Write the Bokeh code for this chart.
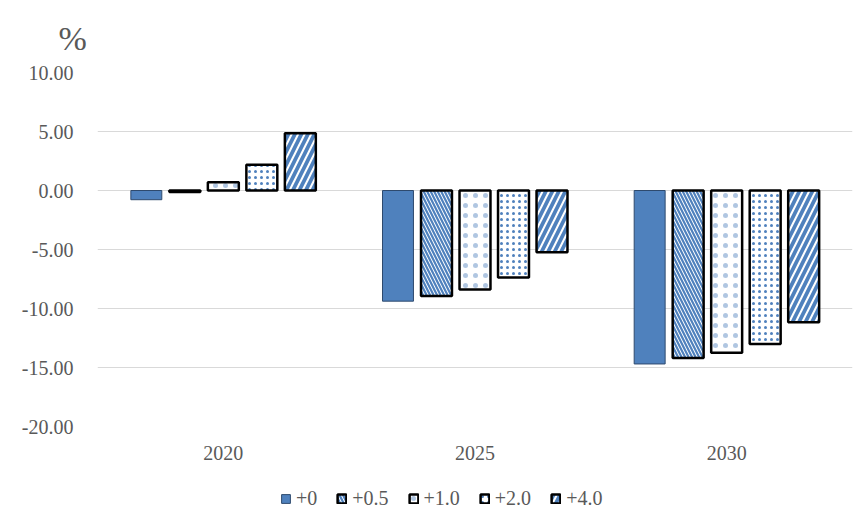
from bokeh.plotting import figure
from bokeh.layouts import column
from bokeh.models import (ColumnDataSource, Range1d, Legend, LegendItem, Title,
                          FixedTicker, NumeralTickFormatter)
from bokeh.transform import dodge
from bokeh.embed import file_html
from bokeh.resources import INLINE

years = ["2020", "2025", "2030"]
series = ["+0", "+0.5", "+1.0", "+2.0", "+4.0"]
v_p00 = [-0.78, -9.38, -14.70]
v_p05 = [-0.12, -8.95, -14.20]
v_p10 = [0.70, -8.39, -13.76]
v_p20 = [2.18, -7.37, -13.00]
v_p40 = [4.86, -5.23, -11.16]
y_ticks = [-20, -15, -10, -5, 0, 5, 10]
unit_label = "%"

values = [v_p00, v_p05, v_p10, v_p20, v_p40]

BLUE = "#4F81BD"
FONT = "Liberation Serif"
GREY = "#595959"

p = figure(x_range=years, width=858, height=466, output_backend="svg",
           toolbar_location=None, min_border_left=97, min_border_right=6,
           min_border_top=72, min_border_bottom=40)
p.y_range = Range1d(-20, 10)
p.outline_line_color = None
p.background_fill_color = "white"
p.border_fill_color = "white"

offsets = [-0.306, -0.153, 0.0, 0.153, 0.306]
styles = [
    dict(fill_color=BLUE, line_color="#2E4A6E", line_width=1),
    dict(fill_color="white", line_color="black", line_width=2.5,
         hatch_pattern="\\", hatch_color=BLUE, hatch_scale=7, hatch_weight=2.2),
    dict(fill_color="white", line_color="black", line_width=2.5,
         hatch_pattern=".", hatch_color=BLUE, hatch_scale=10, hatch_weight=1.0, hatch_alpha=0.45),
    dict(fill_color="white", line_color="black", line_width=2.5,
         hatch_pattern=".", hatch_color=BLUE, hatch_scale=6, hatch_weight=1.0),
    dict(fill_color="white", line_color="black", line_width=2.5,
         hatch_pattern="/", hatch_color=BLUE, hatch_scale=13, hatch_weight=3.8),
]

sources = []
for name, vals, off, st in zip(series, values, offsets, styles):
    src = ColumnDataSource(dict(year=years, val=vals))
    sources.append(src)
    p.vbar(x=dodge("year", off, range=p.x_range), top="val", bottom=0,
           width=0.123, source=src, **st)

p.xgrid.grid_line_color = None
p.ygrid.grid_line_color = "#D9D9D9"
p.ygrid.grid_line_width = 1
p.yaxis.ticker = FixedTicker(ticks=y_ticks)
p.yaxis.formatter = NumeralTickFormatter(format="0.00")

for ax in (p.xaxis, p.yaxis):
    ax.axis_line_color = None
    ax.major_tick_line_color = None
    ax.minor_tick_line_color = None
    ax.major_tick_out = 0
    ax.major_tick_in = 0
    ax.major_label_text_font = FONT
    ax.major_label_text_font_size = "20px"
    ax.major_label_text_color = GREY
p.yaxis.major_label_standoff = 24
p.xaxis.major_label_standoff = 19

p.title = Title(text=unit_label, align="left", offset=-39, vertical_align="top",
                standoff=28,
                text_font=FONT, text_font_size="34px", text_color=GREY,
                text_font_style="normal")

# legend strip below the chart (same sources; its renderers are hidden)
lg = figure(width=858, height=44, output_backend="svg", toolbar_location=None,
            min_border=0, x_axis_type=None, y_axis_type=None,
            x_range=p.x_range, y_range=Range1d(-20, 10))
lg.grid.grid_line_color = None
lg.outline_line_color = None
lg.border_fill_color = "white"
items = []
for name, src, off, st in zip(series, sources, offsets, styles):
    r = lg.vbar(x=dodge("year", off, range=lg.x_range), top="val", bottom=0,
                width=0.123, source=src, visible=False, **st)
    items.append(LegendItem(label=name, renderers=[r], index=0))

legend = Legend(items=items, orientation="horizontal", location=(183, 0),
                padding=0, margin=0, spacing=19, label_standoff=5,
                glyph_width=11, glyph_height=11, label_height=20,
                label_text_font=FONT, label_text_font_size="20px",
                label_text_color=GREY, inactive_fill_alpha=0,
                border_line_alpha=0, background_fill_alpha=0)
lg.add_layout(legend, "center")

layout = column(p, lg, spacing=0)
open("out.html", "w").write(file_html(layout, INLINE))
